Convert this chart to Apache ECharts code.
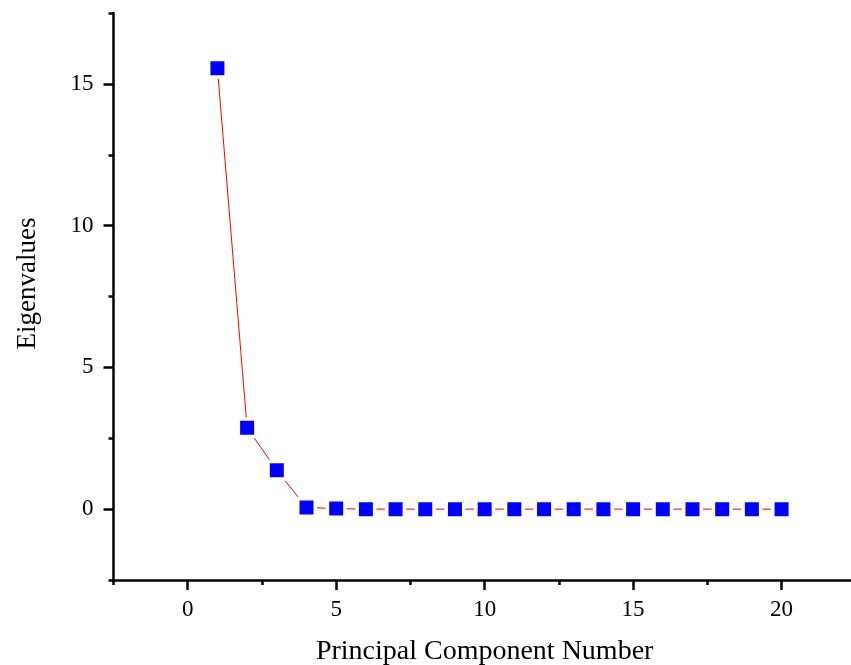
<!DOCTYPE html>
<html>
<head>
<meta charset="utf-8">
<title>Scree plot</title>
<script src="https://cdn.jsdelivr.net/npm/echarts@6/dist/echarts.min.js"></script>
<style>
  html, body { margin: 0; padding: 0; background: #fff; }
  #main { width: 851px; height: 665px; }
</style>
</head>
<body>
<div id="main"></div>
<script>
// ---- data ----
const componentNumbers = [1, 2, 3, 4, 5, 6, 7, 8, 9, 10, 11, 12, 13, 14, 15, 16, 17, 18, 19, 20];
const eigenvalues = [15.55, 2.87, 1.37, 0.06, 0.02, 0, 0, 0, 0, 0, 0, 0, 0, 0, 0, 0, 0, 0, 0, 0];

const xMajorTicks = [0, 5, 10, 15, 20];
const xMinorTicks = [-2.5, 2.5, 7.5, 12.5, 17.5, 22.5];
const yMajorTicks = [0, 5, 10, 15];
const yMinorTicks = [-2.5, 2.5, 7.5, 12.5, 17.5];

const FONT = '"Liberation Serif", "Times New Roman", serif';

const chart = echarts.init(document.getElementById('main'));

// main axis (line, long ticks, labels) + a bare overlay axis for the short ticks
const baseX = { type: 'value', min: -2.5, max: 22.5, position: 'bottom', splitLine: { show: false } };
const baseY = { type: 'value', min: -2.5, max: 17.5, position: 'left', splitLine: { show: false } };

const option = {
    backgroundColor: '#fff',
    animation: false,
    grid: { left: 113.5, right: -4.8, top: 13, bottom: 85, containLabel: false, outerBoundsMode: 'none' },
    xAxis: [
        Object.assign({}, baseX, {
            name: 'Principal Component Number',
            nameLocation: 'middle',
            nameGap: 58,
            nameTextStyle: { fontFamily: FONT, fontSize: 28, color: '#000' },
            axisLine: { onZero: false, lineStyle: { color: '#000', width: 2.5 } },
            axisTick: { customValues: xMajorTicks, length: 10, lineStyle: { color: '#000', width: 2.5 } },
            axisLabel: { customValues: xMajorTicks, margin: 18, fontFamily: FONT, fontSize: 23, color: '#000' }
        }),
        Object.assign({}, baseX, {
            axisLine: { show: false, onZero: false },
            axisTick: { customValues: xMinorTicks, length: 5, lineStyle: { color: '#000', width: 2.5 } },
            axisLabel: { show: false }
        })
    ],
    yAxis: [
        Object.assign({}, baseY, {
            name: 'Eigenvalues',
            nameLocation: 'middle',
            nameGap: 72,
            nameTextStyle: { fontFamily: FONT, fontSize: 27, color: '#000', padding: [0, 0, 0, 26] },
            axisLine: { onZero: false, lineStyle: { color: '#000', width: 2.5 } },
            axisTick: { customValues: yMajorTicks, length: 10, lineStyle: { color: '#000', width: 2.5 } },
            axisLabel: { customValues: yMajorTicks, margin: 20, fontFamily: FONT, fontSize: 23, color: '#000' }
        }),
        Object.assign({}, baseY, {
            axisLine: { show: false, onZero: false },
            axisTick: { customValues: yMinorTicks, length: 5, lineStyle: { color: '#000', width: 2.5 } },
            axisLabel: { show: false }
        })
    ],
    series: [
        {
            type: 'line',
            xAxisIndex: 0,
            yAxisIndex: 0,
            data: componentNumbers.map((n, i) => [n, eigenvalues[i]]),
            symbol: 'rect',
            symbolSize: 17.5,
            // white halo around each square leaves the gap in the line, like Origin
            itemStyle: { color: '#0000ff', borderColor: '#fff', borderWidth: 3.5 },
            lineStyle: { color: '#ff0000', width: 1 },
            emphasis: { disabled: true }
        }
    ]
};

chart.setOption(option);
</script>
</body>
</html>
